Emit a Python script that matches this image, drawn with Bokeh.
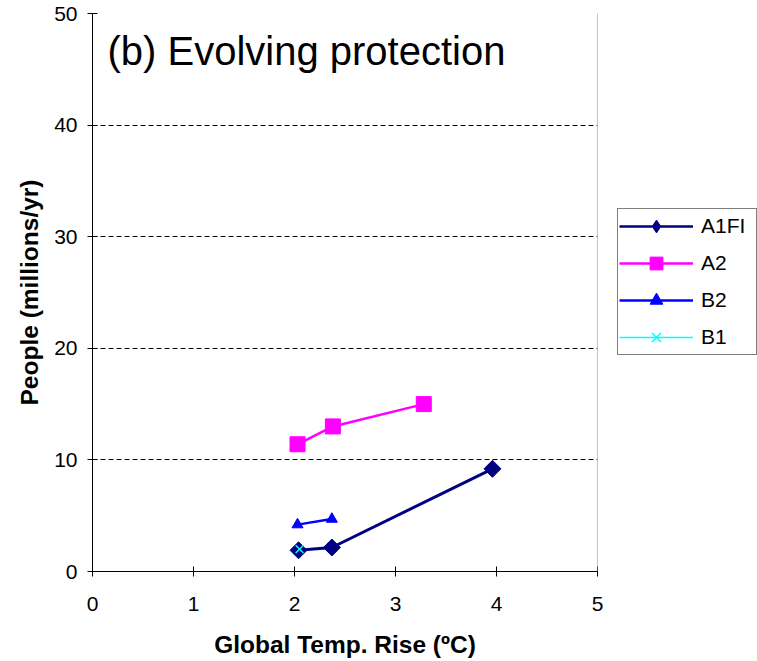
import math
from bokeh.plotting import figure
from bokeh.layouts import row
from bokeh.models import (Range1d, FixedTicker, Legend, LegendItem, Label, Span)
from bokeh.embed import file_html
from bokeh.resources import INLINE

# Scenario series: global temperature rise (deg C) vs people flooded (millions/yr)
a1fi_x = [2.04, 2.37, 3.96]
a1fi_y = [1.9, 2.15, 9.2]
a2_x = [2.03, 2.38, 3.28]
a2_y = [11.4, 13.0, 15.0]
b2_x = [2.03, 2.37]
b2_y = [4.2, 4.7]
b1_x = [2.05]
b1_y = [2.0]

series_names = ["A1FI", "A2", "B2", "B1"]
x_ticks = [0, 1, 2, 3, 4, 5]
y_ticks = [0, 10, 20, 30, 40, 50]

FONT = "Liberation Sans"
NAVY, MAGENTA, BLUE, CYAN = "#000080", "#ff00ff", "#0000ff", "#00ffff"

p = figure(width=605, height=661, output_backend="svg", toolbar_location=None,
           x_range=Range1d(0, 5), y_range=Range1d(0, 50),
           min_border_left=92, min_border_right=8,
           min_border_top=13, min_border_bottom=90)
p.outline_line_color = None
p.background_fill_color = "white"
p.border_fill_color = "white"

# axes
for ax in (p.xaxis, p.yaxis):
    ax.axis_line_color = "black"
    ax.axis_line_width = 1
    ax.major_tick_line_color = "black"
    ax.major_tick_in = 5
    ax.major_tick_out = 5
    ax.minor_tick_line_color = None
    ax.major_label_text_font = FONT
    ax.major_label_text_font_size = "21px"
    ax.major_label_text_color = "black"
    ax.axis_label_text_font = FONT
    ax.axis_label_text_font_style = "bold"
    ax.axis_label_text_font_size = "24.5px"
    ax.axis_label_text_color = "black"

p.xaxis.ticker = FixedTicker(ticks=x_ticks)
p.yaxis.ticker = FixedTicker(ticks=y_ticks)
p.xaxis.axis_label = "Global Temp. Rise (\u00baC)"
p.yaxis.axis_label = "People (millions/yr)"
p.xaxis.major_label_standoff = 20
p.yaxis.major_label_standoff = 10
p.xaxis.axis_label_standoff = 17
p.yaxis.axis_label_standoff = 8

# grid: dashed horizontal lines only
p.xgrid.grid_line_color = None
p.ygrid.ticker = FixedTicker(ticks=y_ticks[1:])
p.ygrid.grid_line_color = "black"
p.ygrid.grid_line_dash = "5 3"
p.ygrid.grid_line_width = 1

# right frame edge
p.add_layout(Span(location=5, dimension="height", line_color="#8c8c8c", line_width=1))

# series
p.line(a1fi_x, a1fi_y, line_color=NAVY, line_width=3)
p.scatter(a1fi_x, a1fi_y, marker="square", angle=math.pi / 4, size=12,
          fill_color=NAVY, line_color=NAVY)

p.line(a2_x, a2_y, line_color=MAGENTA, line_width=2.5)
p.scatter(a2_x, a2_y, marker="square", size=15, fill_color=MAGENTA, line_color=MAGENTA)

p.line(b2_x, b2_y, line_color=BLUE, line_width=2.5)
p.scatter(b2_x, b2_y, marker="triangle", size=11, fill_color=BLUE, line_color=BLUE)

p.line(b1_x, b1_y, line_color=CYAN, line_width=1.5)
p.scatter(b1_x, b1_y, marker="x", size=11, line_color=CYAN, line_width=1.5)

title = Label(x=15, y=521, x_units="screen", y_units="screen",
              text="(b) Evolving protection", text_font=FONT,
              text_font_size="40px", text_color="black", text_baseline="middle")
p.add_layout(title)

# legend panel to the right of the chart; its own ranges keep the
# sample series out of view so only the legend entries show
lp = figure(width=152, height=661, output_backend="svg", toolbar_location=None,
            x_range=Range1d(-2, -1), y_range=Range1d(-2, -1),
            x_axis_type=None, y_axis_type=None, min_border=0)
lp.outline_line_color = None
lp.grid.visible = False

def legend_sample(xs, ys, color, marker, line_width, marker_width=1):
    ln = lp.line(xs, ys, line_color=color, line_width=line_width)
    mk = lp.scatter(xs, ys, marker=marker, size=14, fill_color=color,
                    line_color=color, line_width=marker_width)
    return [ln, mk]

samples = [
    legend_sample(a1fi_x, a1fi_y, NAVY, "diamond", 2.5),
    legend_sample(a2_x, a2_y, MAGENTA, "square", 2.5),
    legend_sample(b2_x, b2_y, BLUE, "triangle", 2.5),
    legend_sample(b1_x, b1_y, CYAN, "x", 1.5, 1.5),
]

legend = Legend(items=[LegendItem(label=name, renderers=r)
                       for name, r in zip(series_names, samples)],
                location=(12, 216))
legend.label_text_font = FONT
legend.label_text_font_size = "21px"
legend.label_text_color = "black"
legend.glyph_width = 74
legend.glyph_height = 32
legend.spacing = 5
legend.padding = 1
legend.margin = 0
legend.label_standoff = 8
legend.label_width = 54
legend.border_line_color = "black"
legend.border_line_width = 1
legend.background_fill_alpha = 1
lp.add_layout(legend, "center")

open("out.html", "w").write(file_html(row(p, lp), INLINE))
